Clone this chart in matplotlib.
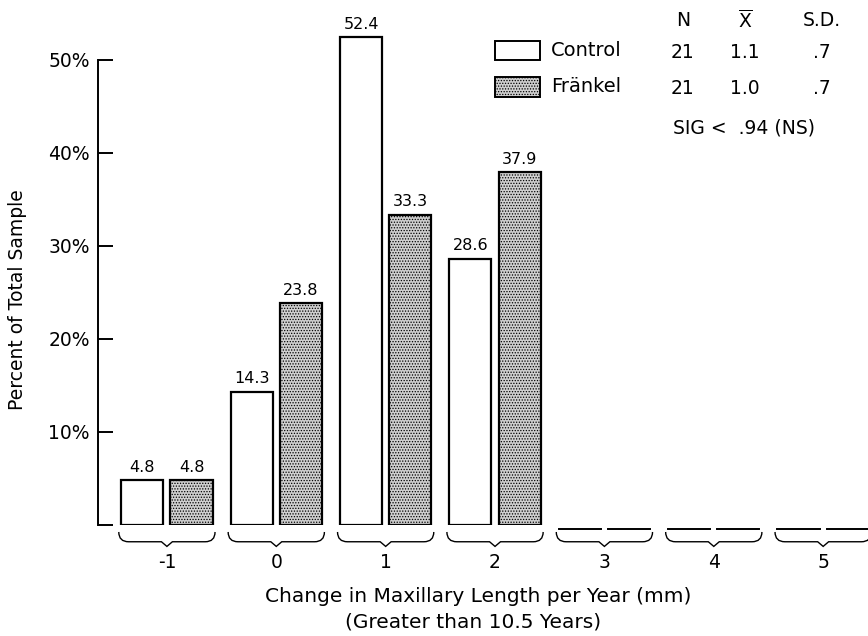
import numpy as np
import matplotlib
matplotlib.use("Agg")
import matplotlib.pyplot as plt
from matplotlib.patches import Rectangle, PathPatch
from matplotlib.path import Path

# data
groups = [-1, 0, 1, 2, 3, 4, 5]
control = [4.8, 14.3, 52.4, 28.6, 0, 0, 0]
frankel = [4.8, 23.8, 33.3, 37.9, 0, 0, 0]
ytick_vals = [0, 10, 20, 30, 40, 50]
ytick_labels = ["", "10%", "20%", "30%", "40%", "50%"]
stats_head = ["N", r"$\overline{\mathrm{X}}$", "S.D."]
stats_control = ["21", "1.1", ".7"]
stats_frankel = ["21", "1.0", ".7"]
sig_text = "SIG <  .94 (NS)"

W, H = 868, 636
plt.rcParams["font.family"] = ["DejaVu Sans"]
plt.rcParams["hatch.linewidth"] = 0.6
plt.rcParams["hatch.color"] = "#444444"

fig = plt.figure(figsize=(W / 100, H / 100), dpi=100)
ax = fig.add_axes([98 / W, (H - 525) / H, (W - 98) / W, 525 / H])
ax.set_xlim(-1.63, 5.41)
ax.set_ylim(0, 56.4)

x = np.array(groups, dtype=float)
off = 0.225
bw = 0.385
fill = "#cfcfcf"

for xi, c, f in zip(x, control, frankel):
    if c > 0:
        ax.bar(xi - off, c, width=bw, color="white", edgecolor="black", linewidth=1.6)
        ax.text(xi - off, c + 0.6, f"{c}", ha="center", va="bottom", fontsize=11.5)
    else:
        ax.plot([xi - off - bw / 2, xi - off + bw / 2], [-0.45, -0.45], color="black",
                lw=1.4, clip_on=False)
    if f > 0:
        ax.bar(xi + off, f, width=bw, color=fill, edgecolor="black", linewidth=1.6,
               hatch="......")
        ax.text(xi + off, f + 0.6, f"{f}", ha="center", va="bottom", fontsize=11.5)
    else:
        ax.plot([xi + off - bw / 2, xi + off + bw / 2], [-0.45, -0.45], color="black",
                lw=1.4, clip_on=False)

    # brace under each group
    l, r = xi - 0.44, xi + 0.44
    y0, y1, yt = -0.75, -1.8, -2.3
    verts = [(l, y0), (l, y1), (l + 0.09, y1),
             (xi - 0.05, y1), (xi, yt), (xi + 0.05, y1),
             (r - 0.09, y1), (r, y1), (r, y0)]
    codes = [Path.MOVETO, Path.CURVE3, Path.CURVE3,
             Path.LINETO, Path.LINETO, Path.LINETO,
             Path.LINETO, Path.CURVE3, Path.CURVE3]
    ax.add_patch(PathPatch(Path(verts, codes), fill=False, lw=1.0,
                           edgecolor="black", clip_on=False))
    ax.text(xi, -4.0, "-1" if xi < 0 else f"{int(xi)}", ha="center", va="center",
            fontsize=13.5)

# axes styling
for s in ["top", "right", "bottom"]:
    ax.spines[s].set_visible(False)
ax.spines["left"].set_bounds(0, 50)
ax.spines["left"].set_linewidth(1.4)
ax.set_xticks([])
ax.set_yticks(ytick_vals)
ax.set_yticklabels(ytick_labels, fontsize=13.5)
ax.tick_params(axis="y", direction="in", length=11, width=1.4, pad=6)

fig.text(18 / W, 1 - 300 / H, "Percent of Total Sample", rotation=90,
         ha="center", va="center", fontsize=13.5)
fig.text(478 / W, 1 - 597 / H, "Change in Maxillary Length per Year (mm)",
         ha="center", va="center", fontsize=14.5)
fig.text(473 / W, 1 - 622 / H, "(Greater than 10.5 Years)",
         ha="center", va="center", fontsize=14.5)

# legend and stats table
def px(xp, yp):
    return xp / W, 1 - yp / H

bx, by = px(495, 60)
fig.patches.append(Rectangle((bx, by), 45 / W, 19 / H, transform=fig.transFigure,
                             facecolor="white", edgecolor="black", lw=1.4))
bx, by = px(495, 97)
fig.patches.append(Rectangle((bx, by), 45 / W, 20 / H, transform=fig.transFigure,
                             facecolor=fill, edgecolor="black", lw=1.4, hatch="......"))
fig.text(*px(551, 51), "Control", ha="left", va="center", fontsize=14)
fig.text(*px(551, 87), "Fränkel", ha="left", va="center", fontsize=14)

cols = [683, 745, 822]
for cx, h in zip(cols, stats_head):
    fig.text(*px(cx, 21), h, ha="center", va="center", fontsize=13.5)
for cx, v in zip(cols, stats_control):
    fig.text(*px(cx, 52), v, ha="center", va="center", fontsize=13.5)
for cx, v in zip(cols, stats_frankel):
    fig.text(*px(cx, 88), v, ha="center", va="center", fontsize=13.5)
fig.text(*px(673, 128), sig_text, ha="left", va="center", fontsize=13.5)

fig.savefig("out.png", dpi=100)
